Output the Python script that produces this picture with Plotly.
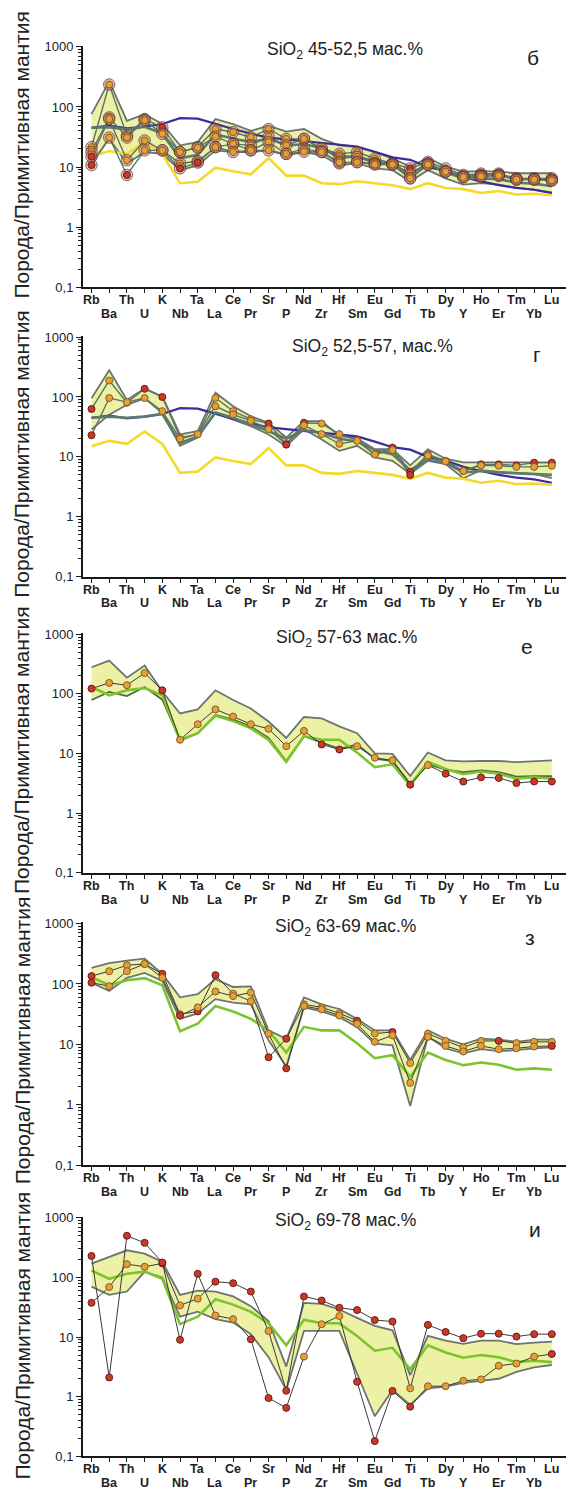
import plotly.graph_objects as go

# Primitive-mantle-normalised multi-element diagrams, five SiO2 groups
ELEMENTS = ["Rb", "Ba", "Th", "U", "K", "Nb", "Ta", "La", "Ce", "Pr", "Sr", "P", "Nd", "Zr",
            "Hf", "Sm", "Eu", "Gd", "Ti", "Tb", "Dy", "Y", "Ho", "Er", "Tm", "Yb", "Lu"]

Y_TICKS = [0.1, 1, 10, 100, 1000]
Y_TICK_TEXT = ["0,1", "1", "10", "100", "1000"]

TITLES = ["SiO<sub>2</sub> 45-52,5 мас.%", "SiO<sub>2</sub> 52,5-57, мас.%",
          "SiO<sub>2</sub> 57-63 мас.%", "SiO<sub>2</sub> 63-69 мас.%",
          "SiO<sub>2</sub> 69-78 мас.%"]
LETTERS = ["б", "г", "е", "з", "и"]
Y_TITLE = "Порода/Примитивная мантия"

# reference patterns
blue_ref = [45, 49, 44, 47, 52, 65, 64, 52, 43, 36, 31, 29, 27, 25.5, 24, 22, 18, 14.5,
            13.2, 10, 8.7, 6.8, 5.8, 5.0, 4.5, 4.2, 3.7]
yellow_ref = [15, 18.5, 16.5, 26.5, 16.5, 5.4, 5.7, 9.8, 8.5, 7.6, 14.1, 7.2, 7.2, 5.4, 5.2,
              5.8, 5.4, 5.0, 4.3, 5.4, 4.5, 4.3, 3.7, 4.0, 3.5, 3.6, 3.4]
green_ref = [130, 95, 115, 125, 95, 16.5, 22, 43, 35, 26.5, 17, 7.3, 19.5, 17, 17, 10.4,
             5.9, 6.6, 2.9, 7.3, 5.5, 4.5, 5.0, 4.6, 3.8, 4.0, 3.8]

# group 1: SiO2 45-52.5
p1_upper = [76, 267, 59, 76, 52, 23, 26, 63, 52, 40, 49, 38.8, 43, 29.5, 23, 21.5, 17.8,
            13.9, 10.2, 14.2, 10.2, 8.4, 8.6, 8.4, 7.9, 7.9, 7.9]
p1_lower = [11.5, 29.5, 11.5, 17.8, 16.6, 8.9, 10.7, 19, 17.8, 17.8, 19, 15.7, 17.8, 15.7,
            10.7, 11.5, 9.5, 8.9, 5.8, 8.9, 6.5, 5.1, 5.4, 5.1, 4.5, 4.2, 3.8]
p1_mean = [45, 46, 42, 47, 36, 14, 16, 35, 30, 26, 30, 23, 24, 21, 15, 15, 12.5, 11, 7.5,
           11.5, 8.2, 6.5, 6.5, 6.3, 5.5, 5.3, 4.8]
p1_s1 = [21.5, 236, 33.5, 63, 45.6, 17.8, 21.5, 43, 38, 31.4, 43, 29.5, 29.5, 20.3, 16.6,
         17.8, 13.9, 11.5, 9.5, 12.2, 9.5, 7.4, 7.8, 7.8, 6.5, 6.5, 6.5]
p1_s2 = [17.9, 67, 31, 60, 35.7, 17.8, 21, 32, 24.3, 23, 32, 23, 29.5, 20.3, 13.9, 14.8,
         11.5, 11.5, 7.8, 11.5, 8.4, 7.0, 7.4, 7.5, 6.3, 6.3, 6.2]
p1_s3 = [14.9, 63, 13, 27.7, 19, 11.5, 12.5, 21.5, 24.3, 19, 26, 16.6, 20.3, 17.8, 11.5,
         12.2, 11.5, 11, 6.5, 11, 8.4, 6.8, 7.0, 7.2, 6.2, 6.2, 6.0]
p1_s4 = [10.8, 31, 7.4, 19, 19, 9.5, 11.9, 21.5, 17.8, 19, 19, 16.6, 18, 17.8, 12, 12, 11,
         11, 6.5, 11, 8.4, 6.8, 7.0, 7.2, 6.2, 6.2, 6.0]

# group 2: SiO2 52.5-57
p2_upper = [95, 279, 89, 139, 102, 23.7, 27, 118, 70, 47.6, 37, 21, 39.5, 39.5, 22.3, 20.3,
            13.4, 13.4, 7.2, 13.4, 9.3, 8.1, 8.1, 8.1, 8.0, 8.1, 8.1]
p2_lower = [28.7, 50.7, 74, 95, 54, 15.3, 21, 54, 42, 32.6, 23.7, 15.1, 29, 19.5, 12.6,
            15.3, 9.8, 8.6, 5.2, 8.6, 7.6, 4.4, 6.0, 5.6, 5.4, 5.2, 4.4]
p2_mean = [45, 47, 45, 47, 52, 17, 22, 55, 45, 35, 27, 20, 28, 25, 20, 18, 13, 11, 6, 9, 8,
           5.5, 5.8, 5.5, 5.3, 5.2, 5.0]
p2_s1 = [63, 188, 80, 137, 100, 21, 24, 96, 58, 42.5, 36, 16.3, 37, 36, 24, 19, 11, 14.3,
         5.6, 11, 8.6, 5.8, 7.5, 7.5, 7.2, 8.0, 8.0]
p2_s2 = [23, 96, 82, 96, 58, 20, 24, 70, 51, 40, 29, 16, 33.5, 24, 16.5, 18.5, 11, 13, 5.0,
         10.5, 8.4, 5.8, 7.2, 7.1, 6.8, 6.8, 7.1]

# group 3: SiO2 57-63
p3_upper = [280, 362, 187, 299, 110, 47, 55, 115, 79, 57, 34.5, 18.3, 41, 39, 28.5, 22,
            10.1, 9.9, 4.2, 10.4, 7.7, 7.4, 7.5, 7.5, 7.2, 7.4, 7.7]
p3_lower = [79, 108, 92, 131, 80, 17, 22, 44.5, 37, 28.5, 18.3, 7.5, 19.5, 15.1, 12, 14.2,
            8.2, 7.5, 3.1, 6.6, 5.4, 4.9, 5.2, 4.9, 4.1, 4.2, 4.2]
p3_s1 = [123, 153, 140, 224, 115, 17, 31, 55, 41.7, 31, 26, 13.3, 24, 14.2, 11.7, 13.3, 8.5,
         7.7, 3.0, 6.4, 4.6, 3.4, 4.0, 3.9, 3.2, 3.4, 3.4]

# group 4: SiO2 63-69
p4_upper = [184, 222, 243, 262, 147, 60, 68, 120, 89, 91, 17, 12.4, 60, 46, 38.5, 26.3, 17,
            17, 5.5, 17, 12.4, 10, 12.4, 12, 11, 12, 12]
p4_lower = [105, 76.6, 126, 152, 112, 26.3, 32.6, 56, 49, 46, 11.7, 4.3, 41, 35, 28, 19.3,
            10.3, 9.6, 0.95, 13.3, 8.6, 7.1, 8.3, 7.7, 8.0, 8.6, 8.9]
p4_s1 = [135, 163, 204, 214, 147, 31.6, 35, 140, 69, 52, 6.1, 12.4, 46, 41, 32.6, 24.6,
         15.1, 16, 4.9, 15, 11.4, 8.9, 11.4, 11.4, 10.5, 11, 11]
p4_s2 = [105, 92, 163, 214, 126, 30, 41, 75, 63, 72, 15, 4.0, 43, 38, 30, 21.9, 11, 14.1,
         2.3, 13.3, 9.4, 7.6, 9.4, 8.3, 8.6, 9.2, 9.4]

# group 5: SiO2 69-78
p5_upper = [171, 221, 285, 251, 182, 51, 60, 58, 48, 33, 18.6, 3.2, 37.5, 36, 29, 21, 15.4,
            13, 2.3, 10.5, 8.7, 7.7, 8.7, 8.7, 7.6, 8.1, 8.4]
p5_lower = [70, 51, 58, 124, 100, 22, 26.6, 20, 17.5, 11.2, 4.6, 1.3, 12.7, 12.7, 12.7,
            2.45, 0.47, 1.3, 0.73, 1.38, 1.48, 1.7, 1.82, 2.0, 2.6, 3.1, 3.4]
p5_s1 = [37.5, 69, 167, 151, 172, 34, 44, 85, 80, 58, 12.6, 1.26, 48, 41, 31, 28.3, 19.3,
         18.2, 1.38, 16, 12.2, 9.6, 11.4, 11.4, 10.2, 11.2, 11.2]
p5_s2 = [229, 2.1, 500, 380, 178, 9.0, 115, 23, 20, 9.2, 0.95, 0.65, 4.7, 16.4, 22.5, 1.78,
         0.18, 1.25, 0.68, 1.5, 1.5, 1.85, 1.95, 3.3, 3.6, 4.7, 5.2]

# elements whose symbols are drawn in red for each sample
RED = {
    "p1_s1": ["K", "Ti", "Ho", "Er", "Lu"],
    "p1_s2": [],
    "p1_s3": ["Rb"],
    "p1_s4": ["Rb", "Th", "Nb", "Ta"],
    "p2_s1": ["Rb", "U", "K", "Sr", "P", "Nd", "Gd", "Ti", "Ho", "Er", "Tm", "Yb", "Lu"],
    "p2_s2": ["Rb", "P", "Ti"],
    "p3_s1": ["Rb", "K", "Zr", "Hf", "Ti", "Dy", "Y", "Ho", "Er", "Tm", "Yb", "Lu"],
    "p4_s1": ["Rb", "K", "Ta", "La", "Sr", "P", "Sm", "Gd", "Er"],
    "p4_s2": ["Rb", "Nb", "P", "Lu"],
    "p5_s1": ["Rb", "K", "La", "Ce", "Pr", "P", "Nd", "Zr", "Hf", "Sm", "Eu", "Gd", "Tb",
              "Dy", "Y", "Ho", "Er", "Tm", "Yb", "Lu"],
    "p5_s2": ["Rb", "Ba", "Th", "U", "K", "Nb", "Ta", "Pr", "Sr", "P", "Sm", "Eu", "Gd",
              "Ti", "Lu"],
}

PANELS = [
    dict(upper=p1_upper, lower=p1_lower, refs=[("blue", blue_ref), ("yellow", yellow_ref)],
         means=[p1_mean], samples=[("p1_s1", p1_s1), ("p1_s2", p1_s2), ("p1_s3", p1_s3),
                                   ("p1_s4", p1_s4)], halo=True),
    dict(upper=p2_upper, lower=p2_lower, refs=[("blue", blue_ref), ("yellow", yellow_ref)],
         means=[p2_mean], samples=[("p2_s1", p2_s1), ("p2_s2", p2_s2)], halo=False),
    dict(upper=p3_upper, lower=p3_lower, refs=[("green", green_ref)], means=[],
         samples=[("p3_s1", p3_s1)], halo=False),
    dict(upper=p4_upper, lower=p4_lower, refs=[("green", green_ref)], means=[],
         samples=[("p4_s1", p4_s1), ("p4_s2", p4_s2)], halo=False),
    dict(upper=p5_upper, lower=p5_lower, refs=[("green", green_ref)], means=[],
         samples=[("p5_s1", p5_s1), ("p5_s2", p5_s2)], halo=False),
]

# ---- page geometry (pixels) ----
W, H = 573, 1501
X_LEFT, X_RIGHT = 83, 566
PANEL_PX = [(40, 284), (333, 576), (633, 875), (925, 1170), (1222, 1464)]
TITLE_XY = [(345, 45), (372, 345), (346, 638), (345, 930), (345, 1227)]
LETTER_XY = [(533, 52), (537, 352), (527, 647), (530, 940), (535, 1235)]
YTITLE_Y = [150, 452, 751, 1044, 1342]
FONT = "Liberation Sans, Arial, sans-serif"

REF_STYLE = {"blue": ("#3b2c9e", 2.2), "yellow": ("#f1da2a", 2.6), "green": ("#7bc42b", 2.6)}
ENV_FILL = "#edf1a5"
ENV_LINE = "#6b756f"
ORANGE, ORANGE_EDGE = "#e0a03a", "#8f5a1e"
RED_FILL, RED_EDGE = "#c63a2a", "#6e1c12"

fig = go.Figure()


def ax_names(k):
    return ("x" if k == 0 else f"x{k + 1}"), ("y" if k == 0 else f"y{k + 1}")


for k, p in enumerate(PANELS):
    xa, ya = ax_names(k)
    common = dict(xaxis=xa, yaxis=ya, showlegend=False, hoverinfo="skip")

    # envelope of the group
    fig.add_trace(go.Scatter(x=ELEMENTS, y=p["lower"], mode="lines",
                             line=dict(color=ENV_LINE if k != 2 else "#4d6b3c", width=1.8),
                             **common))
    fig.add_trace(go.Scatter(x=ELEMENTS, y=p["upper"], mode="lines", fill="tonexty",
                             fillcolor=ENV_FILL, line=dict(color=ENV_LINE, width=1.8),
                             **common))

    for name, ref in p["refs"]:
        col, wid = REF_STYLE[name]
        fig.add_trace(go.Scatter(x=ELEMENTS, y=ref, mode="lines",
                                 line=dict(color=col, width=wid), **common))

    for m in p["means"]:
        fig.add_trace(go.Scatter(x=ELEMENTS, y=m, mode="lines",
                                 line=dict(color="#5d7a70", width=2.6), **common))

    line_col = "#5a746a" if k < 2 else "#3a3a3a"
    line_w = 1.4 if k < 2 else 1.0
    for key, vals in p["samples"]:
        fig.add_trace(go.Scatter(x=ELEMENTS, y=vals, mode="lines",
                                 line=dict(color=line_col, width=line_w), **common))

    for key, vals in p["samples"]:
        reds = set(RED[key])
        fills = [RED_FILL if e in reds else ORANGE for e in ELEMENTS]
        edges = [RED_EDGE if e in reds else ORANGE_EDGE for e in ELEMENTS]
        if p["halo"]:
            fig.add_trace(go.Scatter(x=ELEMENTS, y=vals, mode="markers",
                                     marker=dict(size=11.5, color="rgba(190,110,100,0.45)",
                                                 line=dict(color="rgba(80,45,45,0.65)", width=1)),
                                     **common))
        fig.add_trace(go.Scatter(x=ELEMENTS, y=vals, mode="markers",
                                 marker=dict(size=7, color=fills,
                                             line=dict(color=edges, width=1)),
                                 **common))

layout = dict(width=W, height=H, margin=dict(l=0, r=0, t=0, b=0),
              paper_bgcolor="white", plot_bgcolor="white", showlegend=False)

minor_vals = [m * 10 ** e for e in (-1, 0, 1, 2) for m in range(2, 10)]
annotations = []
for k, (top, bot) in enumerate(PANEL_PX):
    xa, ya = ax_names(k)
    xkey = "xaxis" if k == 0 else f"xaxis{k + 1}"
    ykey = "yaxis" if k == 0 else f"yaxis{k + 1}"
    layout[xkey] = dict(domain=[X_LEFT / W, X_RIGHT / W], anchor=ya, type="category",
                        categoryorder="array", categoryarray=ELEMENTS,
                        range=[-0.48, 26.8], showgrid=False, zeroline=False,
                        showline=True, linecolor="#1a1a1a", linewidth=2,
                        ticks="outside", ticklen=4, tickwidth=1.2, tickcolor="#1a1a1a",
                        tickvals=ELEMENTS, showticklabels=False)
    layout[ykey] = dict(domain=[1 - bot / H, 1 - top / H], anchor=xa, type="log",
                        range=[-1, 3.02], showgrid=False, zeroline=False,
                        showline=True, linecolor="#1a1a1a", linewidth=2,
                        ticks="outside", ticklen=5, tickwidth=1.2, tickcolor="#1a1a1a",
                        tickmode="array", tickvals=Y_TICKS, ticktext=Y_TICK_TEXT,
                        tickfont=dict(family=FONT, size=13, color="#222"),
                        minor=dict(tickmode="array", tickvals=minor_vals, ticks="outside",
                                   ticklen=3, tickwidth=1, tickcolor="#1a1a1a",
                                   showgrid=False))

    # staggered element labels under the axis
    for i, el in enumerate(ELEMENTS):
        offset = 13 if i % 2 == 0 else 27
        annotations.append(dict(x=el, y=1 - (bot + offset) / H, xref=xa, yref="paper",
                                text=f"<b>{el}</b>", showarrow=False, xanchor="center",
                                yanchor="middle",
                                font=dict(family=FONT, size=12.5, color="#1e1e1e")))

    tx, ty = TITLE_XY[k]
    annotations.append(dict(x=tx / W, y=1 - ty / H, xref="paper", yref="paper",
                            text=TITLES[k], showarrow=False, xanchor="center",
                            yanchor="middle", font=dict(family=FONT, size=17.5, color="#222")))
    lx, ly = LETTER_XY[k]
    annotations.append(dict(x=lx / W, y=1 - ly / H, xref="paper", yref="paper",
                            text=LETTERS[k], showarrow=False, xanchor="center",
                            yanchor="middle", font=dict(family=FONT, size=21, color="#222")))
    annotations.append(dict(x=22 / W, y=1 - YTITLE_Y[k] / H, xref="paper",
                            yref="paper", text=Y_TITLE, textangle=-90, showarrow=False,
                            xanchor="center", yanchor="middle",
                            font=dict(family=FONT, size=21, color="#222")))

layout["annotations"] = annotations
fig.update_layout(**layout)
fig.write_html("out.html")
